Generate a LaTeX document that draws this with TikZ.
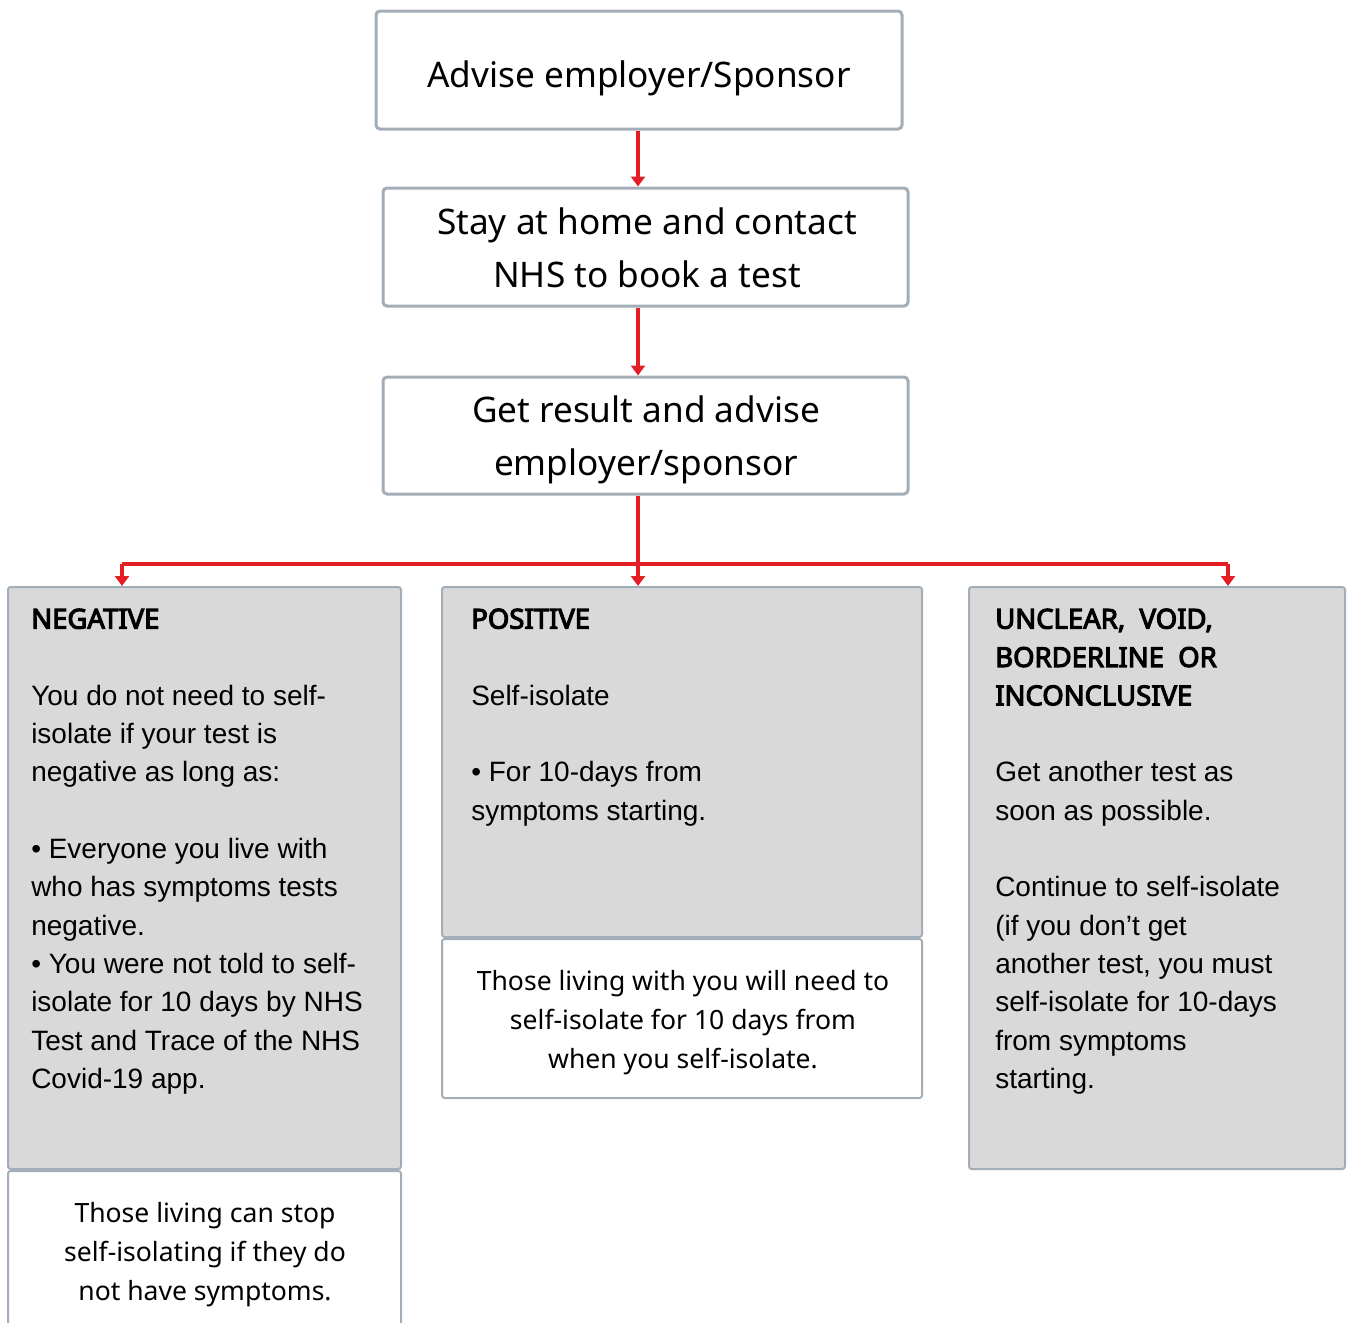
\documentclass[tikz,border=0pt]{standalone}
\usepackage{fontspec}
\setmainfont{Liberation Sans}
\newfontfamily\seg{Noto Sans}[AutoFakeBold=4]
\usetikzlibrary{arrows.meta}
\definecolor{bordergray}{HTML}{A3ADB8}
\definecolor{boxgray}{HTML}{D9D9D9}
\definecolor{flowred}{HTML}{E31E24}
\newcommand\hdr[1]{{\seg\bfseries\fontsize{20.6pt}{28.8pt}\selectfont #1}}
\begin{document}
\begin{tikzpicture}[x=0.75pt,y=-0.75pt,
  topbox/.style={draw=bordergray, line width=2.25pt, rounded corners=3pt, fill=white, inner sep=0pt},
  toptext/.style={anchor=north, align=center, inner sep=0pt, font=\seg\fontsize{26.4pt}{39.75pt}\selectfont},
  graybox/.style={draw=bordergray, line width=1.5pt, rounded corners=2pt, fill=boxgray, inner sep=0pt},
  whitebox/.style={draw=bordergray, line width=1.5pt, rounded corners=2pt, fill=white, inner sep=0pt},
  bodytext/.style={anchor=north west, align=left, inner sep=0pt, font=\fontsize{21pt}{28.75pt}\selectfont},
  notetext/.style={anchor=north, align=center, inner sep=0pt, font=\seg\fontsize{19.9pt}{29.25pt}\selectfont},
  flow/.style={draw=flowred, line width=3pt},
  flowarrow/.style={flow, -{Triangle[width=10.5pt,length=7.5pt]}}
]
\useasboundingbox (0,0) rectangle (1348,1322);
\clip (0,0) rectangle (1348,1322);

% top boxes
\node[topbox, minimum width=526*0.75pt, minimum height=118*0.75pt] (b1) at (639,70) {};
\node[topbox, minimum width=525*0.75pt, minimum height=118*0.75pt] (b2) at (645.5,247) {};
\node[topbox, minimum width=525*0.75pt, minimum height=117*0.75pt] (b3) at (645.5,435.5) {};
\node[toptext] (t1) at (639,50) {\strut Advise employer/Sponsor};
\node[toptext] (t2) at (647,197) {\strut Stay at home and contact\\NHS to book a test};
\node[toptext] (t3) at (646,385.5) {\strut Get result and advise\\employer/sponsor};

% result boxes
\node[graybox, minimum width=393*0.75pt, minimum height=582*0.75pt] (neg) at (204.5,878) {};
\node[whitebox, minimum width=393*0.75pt, minimum height=228*0.75pt] (negnote) at (204.5,1285) {};
\node[graybox, minimum width=480*0.75pt, minimum height=350*0.75pt] (pos) at (682,762) {};
\node[whitebox, minimum width=480*0.75pt, minimum height=159*0.75pt] (posnote) at (682,1018.5) {};
\node[graybox, minimum width=376*0.75pt, minimum height=582*0.75pt] (unc) at (1157,878) {};

% texts
\node[bodytext] (negtext) at (31,601.5) {\strut\hdr{NEGATIVE}\\
\mbox{}\\
You do not need to self-\\
isolate if your test is\\
negative as long as:\\
\mbox{}\\
• Everyone you live with\\
who has symptoms tests\\
negative.\\
• You were not told to self-\\
isolate for 10 days by NHS\\
Test and Trace of the NHS\\
Covid-19 app.};

\node[bodytext] (postext) at (471,601.5) {\strut\hdr{POSITIVE}\\
\mbox{}\\
Self-isolate\\
\mbox{}\\
• For 10-days from\\
symptoms starting.};

\node[bodytext] (unctext) at (995,601.5) {\strut\hdr{UNCLEAR, \ VOID,}\\
\hdr{BORDERLINE \ OR}\\
\hdr{INCONCLUSIVE}\\
\mbox{}\\
Get another test as\\
soon as possible.\\
\mbox{}\\
Continue to self-isolate\\
(if you don’t get\\
another test, you must\\
self-isolate for 10-days\\
from symptoms\\
starting.};

\node[notetext] (negnotetext) at (205,1195) {\strut Those living can stop\\self-isolating if they do\\not have symptoms.};
\node[notetext] (posnotetext) at (683,962.7) {\strut Those living with you will need to\\self-isolate for 10 days from\\when you self-isolate.};

% connectors
\draw[flowarrow] (b1.south -| 638,0) -- (b2.north -| 638,0);
\draw[flowarrow] (b2.south -| 638,0) -- (b3.north -| 638,0);
\coordinate (j) at (638,564);
\coordinate (jl) at (122,564);
\coordinate (jr) at (1228,564);
\draw[flow] (jl) -- (jr);
\draw[flowarrow] (b3.south -| j) -- (pos.north -| j);
\draw[flowarrow] (jl) -- (neg.north -| jl);
\draw[flowarrow] (jr) -- (unc.north -| jr);
\end{tikzpicture}
\end{document}
